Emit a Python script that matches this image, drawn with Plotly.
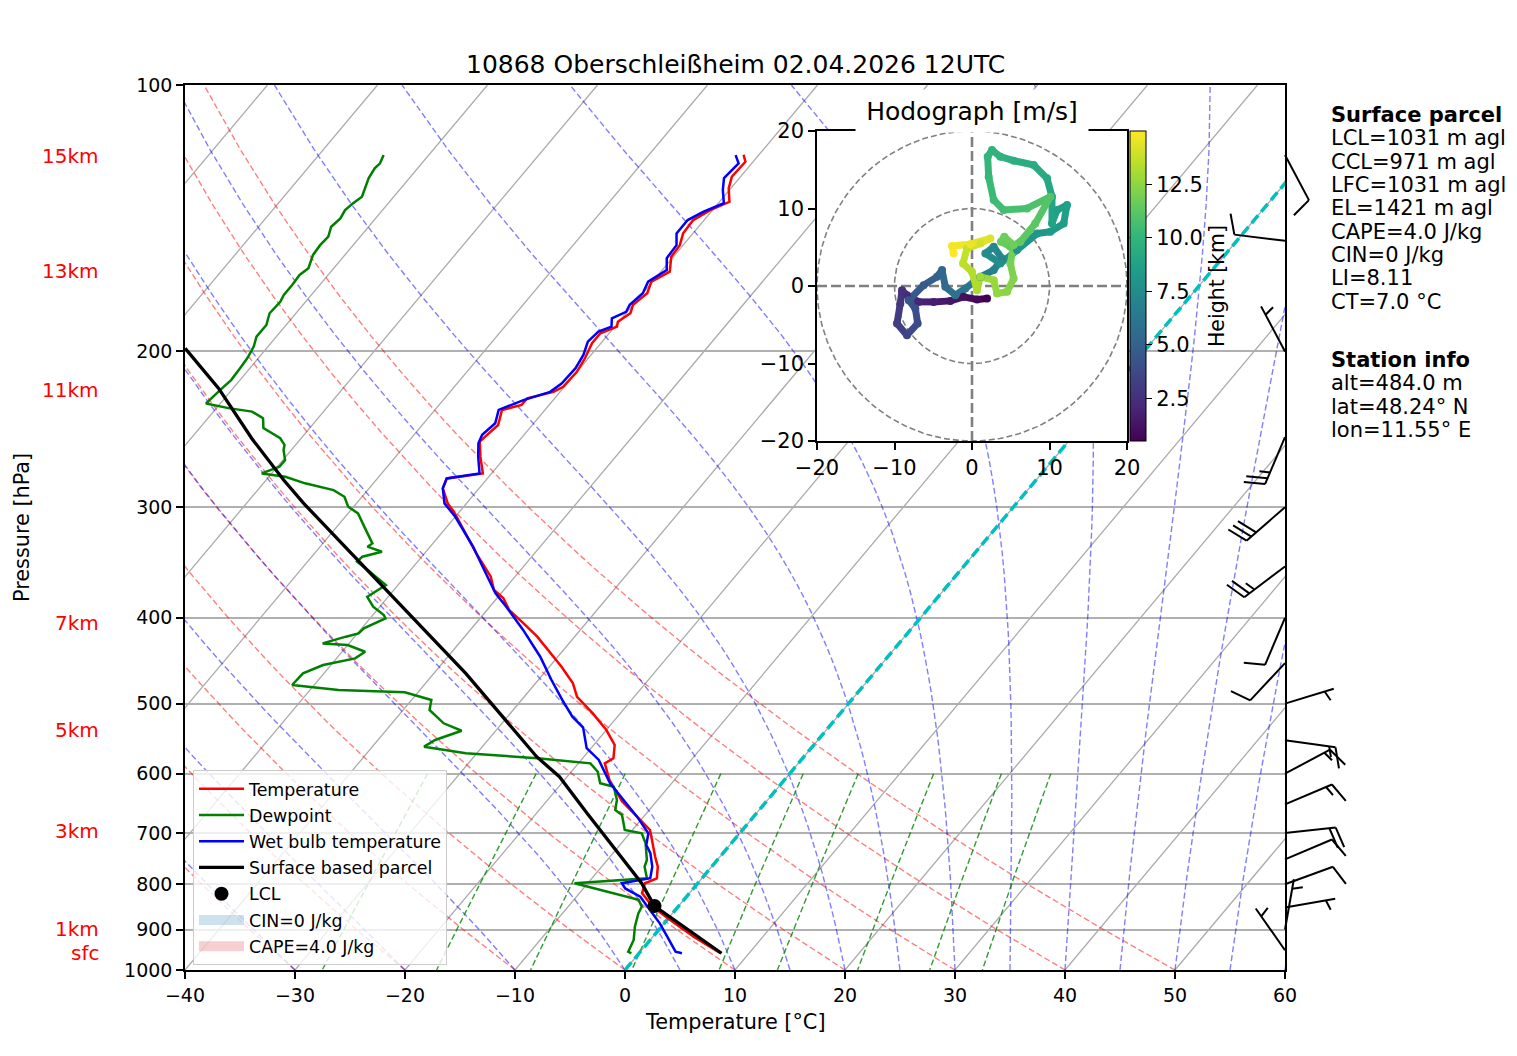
import numpy as np
import plotly.graph_objects as go
from plotly.colors import sample_colorscale

FONT = "DejaVu Sans"
W, H = 1517, 1056
SKEW = 67.5           # degC shift per decade of pressure
PX_PER_DECADE = 885   # pixel height of the main axes (1000 -> 100 hPa)

# ---------------- sounding data ----------------
p_temp = [957.4, 917.0, 878.0, 848.3, 819.1, 798.0, 787.7, 764.3, 744.7, 709.9, 694.7, 671.0,
          645.2, 610.0, 584.1, 576.5, 556.9, 535.6, 512.9, 491.2, 474.3, 454.3, 442.6, 420.1,
          405.6, 391.9, 380.2, 372.0, 359.4, 338.2, 321.1, 304.8, 297.0, 285.6, 278.3, 274.7,
          263.0, 252.9, 249.6, 242.2, 232.9, 229.9, 226.0, 222.2, 219.3, 210.9, 203.6, 195.8,
          190.8, 187.5, 185.1, 181.1, 177.2, 171.9, 166.8, 162.5, 156.3, 151.7, 147.1, 142.1,
          138.5, 135.5, 130.8, 126.9, 122.1, 119.9]
temp = [7.4, 3.7, 0.3, -2.3, -4.3, -4.8, -4.1, -4.9, -5.9, -7.6, -8.4, -10.6,
        -13.1, -15.9, -17.6, -17.2, -18.1, -20.0, -22.5, -25.2, -26.6, -28.9, -30.4, -33.4,
        -35.7, -38.0, -39.4, -40.9, -42.2, -45.3, -47.8, -50.3, -51.7, -53.3, -53.7, -50.8,
        -52.3, -53.5, -53.4, -53.1, -53.9, -52.5, -52.5, -50.6, -50.1, -50.0, -50.3, -50.8,
        -50.8, -49.8, -50.1, -49.6, -50.0, -49.6, -50.1, -49.2, -50.2, -50.3, -50.9, -51.0,
        -50.2, -49.1, -50.2, -50.8, -50.7, -51.4]

p_wetbulb = [957.4, 953.5, 917.0, 885.6, 855.6, 826.4, 808.8, 798.0, 787.7, 764.3, 738.0, 722.3,
             700.8, 671.0, 642.5, 615.2, 579.0, 561.6, 532.1, 517.4, 495.3, 470.3, 442.6, 412.8,
             388.6, 375.3, 359.4, 332.4, 307.5, 297.0, 285.6, 278.3, 274.7, 263.0, 254.0, 248.5,
             241.1, 232.9, 227.0, 222.2, 217.4, 208.9, 201.8, 195.0, 190.0, 187.5, 183.5, 180.4,
             177.2, 171.9, 166.8, 161.8, 156.9, 151.7, 147.1, 142.1, 139.0, 136.0, 131.4, 127.4,
             122.6, 120.0]
wetbulb = [3.9, 3.2, 1.3, -0.4, -2.3, -4.2, -6.2, -6.9, -4.7, -5.4, -6.6, -7.6,
           -8.3, -10.6, -13.1, -15.6, -18.4, -20.4, -22.3, -24.1, -26.3, -28.8, -31.6, -35.2,
           -38.5, -40.5, -42.5, -46.1, -50.0, -52.0, -53.3, -53.7, -51.1, -52.5, -53.5, -53.8,
           -53.5, -54.2, -52.7, -50.9, -50.5, -50.4, -50.7, -51.3, -51.1, -50.3, -50.9, -50.1,
           -50.3, -50.0, -50.4, -49.6, -50.5, -50.6, -51.5, -51.5, -50.7, -49.5, -50.6, -51.4,
           -51.2, -52.1]

p_dew = [957.4, 953.5, 924.9, 893.6, 863.2, 848.3, 833.3, 822.6, 798.0, 787.7, 764.3, 751.1,
         719.0, 700.8, 694.7, 668.0, 659.3, 642.5, 620.7, 615.2, 597.0, 584.1, 576.5, 568.9,
         559.3, 549.7, 536.6, 526.3, 508.4, 495.3, 485.5, 482.6, 476.4, 462.2, 452.3, 444.5,
         436.9, 429.4, 427.5, 420.1, 416.5, 411.1, 400.5, 397.1, 388.6, 378.7, 367.3, 353.2,
         345.7, 341.2, 336.8, 332.4, 329.6, 318.4, 304.8, 299.6, 291.9, 286.9, 281.9, 277.1,
         274.7, 270.0, 265.3, 258.5, 255.1, 250.7, 244.2, 237.9, 233.9, 231.8, 229.0, 220.2,
         215.5, 208.9, 203.6, 197.5, 192.5, 186.7, 181.1, 175.8, 172.7, 168.3, 163.9, 161.1,
         155.6, 151.7, 148.4, 144.6, 141.5, 138.5, 136.0, 133.7, 127.4, 124.2, 122.6, 120.0]
dewpoint = [-0.7, -1.1, -1.5, -2.4, -3.1, -3.3, -4.1, -6.3, -11.2, -5.0, -6.1, -6.4,
            -7.8, -8.9, -10.7, -12.1, -13.1, -13.7, -15.0, -16.5, -17.6, -18.9, -24.1, -31.0,
            -35.3, -34.8, -33.1, -35.3, -37.6, -38.2, -41.2, -47.4, -52.0, -51.9, -50.7, -48.3,
            -47.9, -50.0, -52.4, -50.8, -49.9, -49.8, -48.6, -49.0, -50.6, -51.9, -51.1, -53.9,
            -55.5, -55.4, -54.0, -55.7, -55.5, -57.1, -59.1, -60.5, -61.6, -63.1, -66.2, -68.5,
            -70.9, -69.8, -69.8, -70.7, -71.0, -71.9, -74.2, -75.0, -76.5, -78.9, -81.3, -81.0,
            -80.8, -80.9, -81.0, -81.3, -81.8, -81.8, -82.4, -82.3, -82.5, -82.5, -82.6, -82.3,
            -82.9, -83.0, -82.9, -83.4, -83.2, -83.4, -83.2, -82.9, -83.7, -83.9, -83.8, -84.1]

p_parcel = [957.4, 846.6, 798.0, 725.5, 665.2, 604.8, 574.1, 462.2, 372.0, 312.8, 297.0, 279.5,
            250.7, 220.2, 198.4]
t_parcel = [7.5, -2.2, -5.1, -10.5, -15.4, -20.7, -24.3, -37.1, -50.7, -61.5, -64.8, -68.4,
            -74.5, -81.3, -87.4]
lcl_p, lcl_t = 846.6, -2.2
el_p = 798.0

# wind barbs (kt, direction wind comes from)
barb_p = [120, 150, 200, 250, 300, 350, 400, 450, 500, 550, 600, 650, 700, 750, 800, 850, 900, 950]
barb_spd = [10, 10, 5, 25, 30, 25, 10, 10, 5, 15, 15, 15, 20, 10, 10, 5, 5, 5]
barb_dir = [152, 277, 332, 203, 229, 233, 203, 223, 73, 98, 62, 67, 84, 67, 70, 80, 10, 325]

# hodograph (height km, u, v in m/s)
hodo_h = [0.5, 0.8, 1.1, 1.4, 1.7, 2.0, 2.3, 2.6, 2.9, 3.2, 3.5, 3.8, 4.1, 4.4, 4.7, 5.0, 5.3, 5.6,
          5.9, 6.2, 6.5, 6.8, 7.1, 7.3, 7.5, 7.7, 7.9, 8.1, 8.3, 8.5, 8.6, 8.7, 8.8, 9.0, 9.2, 9.4,
          9.6, 9.8, 9.9, 10.0, 10.2, 10.4, 10.6, 10.8, 11.0, 11.2, 11.4, 11.5, 11.6, 11.7, 11.8,
          12.0, 12.2, 12.4, 12.6, 12.8, 13.0, 13.2, 13.4, 13.6, 13.8, 14.0, 14.3, 14.6, 14.8, 15.0]
hodo_u = [1.94, 0.65, -1.08, -2.80, -4.95, -6.88, -8.39, -9.03, -9.25, -9.68, -8.39, -7.01, -7.31,
          -8.17, -6.24, -4.52, -3.87, -3.44, -2.15, -0.86, 1.08, 2.80, 3.87, 2.80, 1.72, 3.66, 5.81,
          8.39, 10.11, 11.83, 12.26, 10.97, 10.32, 10.32, 9.68, 7.96, 5.38, 3.66, 2.58, 2.02, 2.15,
          2.80, 4.09, 7.10, 10.11, 8.17, 6.24, 4.95, 3.74, 4.17, 5.38, 4.95, 5.38, 4.52, 3.23, 2.80,
          1.08, 0.65, 0.00, -1.16, -0.65, 1.08, 2.37, -0.22, -2.58, -2.37]
hodo_v = [-1.61, -1.74, -1.40, -1.92, -2.05, -2.05, -1.18, -0.54, -2.26, -4.84, -6.35, -4.84, -2.91,
          -1.83, 0.11, 1.18, 2.05, -0.11, -1.18, -0.32, 1.18, 2.05, 3.55, 5.06, 4.20, 2.91, 4.63,
          6.78, 7.00, 8.07, 10.44, 9.80, 8.07, 11.52, 13.89, 15.61, 16.17, 16.69, 17.55, 16.69, 14.10,
          11.09, 9.80, 10.01, 11.52, 8.07, 5.71, 5.06, 5.71, 6.35, 5.28, 2.91, 0.97, -0.75, -0.97,
          0.75, 1.18, -0.54, 1.83, 2.91, 4.84, 5.49, 6.14, 5.40, 5.15, 4.20]

km_labels = ["15km", "13km", "11km", "7km", "5km", "3km", "1km", "sfc"]
km_p = [120.2, 162.4, 221.3, 405.6, 535.9, 697.0, 899.6, 957.4]

parcel_info = ["<b>Surface parcel</b>", "LCL=1031 m agl", "CCL=971 m agl", "LFC=1031 m agl",
               "EL=1421 m agl", "CAPE=4.0 J/kg", "CIN=0 J/kg", "LI=8.11", "CT=7.0 °C"]
station_info = ["<b>Station info</b>", "alt=484.0 m", "lat=48.24° N", "lon=11.55° E"]
title = "10868 Oberschleißheim 02.04.2026 12UTC"


def fx(px):
    return px / W


def fy(py):
    return 1 - py / H


def skew(t, p):
    return list(np.asarray(t, float) + SKEW * np.log10(1000.0 / np.asarray(p, float)))


def moist_adiabat(t0, pres):
    Rd, Cp, Lv, eps = 287.04749, 1004.6662, 2.50084e6, 0.6219569

    def lapse(p, T):
        es = 6.112 * np.exp(17.67 * (T - 273.15) / (T - 29.65))
        rs = eps * es / (p - es)
        return (Rd * T + Lv * rs) / (Cp + Lv * Lv * rs * eps / (Rd * T * T)) / p

    T = t0 + 273.15
    p = pres[0]
    out = [T]
    for pn in pres[1:]:
        n = 8
        h = (pn - p) / n
        for _ in range(n):
            k1 = lapse(p, T)
            k2 = lapse(p + h / 2, T + h * k1 / 2)
            k3 = lapse(p + h / 2, T + h * k2 / 2)
            k4 = lapse(p + h, T + h * k3)
            T += h * (k1 + 2 * k2 + 2 * k3 + k4) / 6
            p += h
        out.append(T)
    return np.array(out) - 273.15


def join(curves):
    xs, ys = [], []
    for t, p in curves:
        xs += skew(t, p) + [None]
        ys += list(p) + [None]
    return xs, ys


def barb_lines(p, spd, wdir, L=51.0):
    h, w, sp = 0.4 * L, 0.25 * L, 0.125 * L
    u = -spd * np.sin(np.radians(wdir))
    v = -spd * np.cos(np.radians(wdir))
    th = np.arctan2(v, u) + np.pi / 2
    s5 = 5 * int(round(spd / 5))
    nfull = s5 // 10
    half = (s5 - 10 * nfull) >= 5
    segs = [[(0, 0), (0, L)]]
    off = L
    for _ in range(nfull):
        segs.append([(0, off), (h, off + w / 2)])
        off -= sp
    if half:
        if off == L:
            off -= 1.5 * sp
        segs.append([(0, off), (h / 2, off + w / 4)])
    xs, ys = [], []
    for seg in segs:
        for a, b in seg:
            xr = a * np.cos(th) - b * np.sin(th)
            yr = a * np.sin(th) + b * np.cos(th)
            xs.append(xr)
            ys.append(p * 10 ** (-yr / PX_PER_DECADE))
        xs.append(None)
        ys.append(None)
    return xs, ys


fig = go.Figure()

# ---------------- background lines ----------------
pres = np.linspace(1000, 100, 50)
iso = [(np.array([t, t]), np.array([1000.0, 100.0])) for t in range(-130, 61, 10)]
dry = [((t0 + 273.15) * (pres / 1000.0) ** 0.28571 - 273.15, pres) for t0 in range(-40, 51, 10)]
moist = [(moist_adiabat(t0, pres), pres) for t0 in list(range(-40, 0, 10)) + list(range(0, 61, 5))]
pmix = np.linspace(600, 1000, 50)
mix = []
for w in [0.0004, 0.001, 0.002, 0.004, 0.007, 0.01, 0.016, 0.024, 0.032]:
    e = pmix * w / (0.6219569 + w)
    val = np.log(e / 6.112)
    mix.append((243.5 * val / (17.67 - val), pmix))

for curves, col, dash, wid in [(iso, "#ababab", "solid", 1.3),
                               (dry, "rgba(255,0,0,0.5)", "6px,3px", 1.4),
                               (moist, "rgba(0,0,255,0.5)", "6px,3px", 1.4),
                               (mix, "rgba(0,128,0,0.8)", "6px,3px", 1.4)]:
    xs, ys = join(curves)
    fig.add_trace(go.Scatter(x=xs, y=ys, mode="lines", line=dict(color=col, width=wid, dash=dash),
                             showlegend=False, hoverinfo="skip"))

fig.add_trace(go.Scatter(x=skew([0, 0], [1000, 100]), y=[1000, 100], mode="lines",
                         line=dict(color="rgb(0,191,191)", width=3.5, dash="10px,5px"),
                         showlegend=False, hoverinfo="skip"))

# ---------------- CAPE / CIN shading ----------------
cape_pp = [p for p in p_parcel if p >= el_p]
cape_pt = [t for p, t in zip(p_parcel, t_parcel) if p >= el_p]
env_p = [p for p in p_temp if p >= el_p][::-1]
env_t = [t for p, t in zip(p_temp, temp) if p >= el_p][::-1]
fig.add_trace(go.Scatter(x=skew(cape_pt + env_t, cape_pp + env_p), y=cape_pp + env_p,
                         fill="toself", fillcolor="rgba(214,39,40,0.2)", mode="none",
                         showlegend=False, hoverinfo="skip"))
# legend swatches for the shaded areas
fig.add_trace(go.Scatter(x=[None], y=[None], mode="lines", name="CIN=0 J/kg",
                         line=dict(color="rgba(31,119,180,0.22)", width=13),
                         legendrank=6, legendgroup="g6"))
fig.add_trace(go.Scatter(x=[None], y=[None], mode="lines", name="CAPE=4.0 J/kg",
                         line=dict(color="rgba(214,39,40,0.22)", width=13),
                         legendrank=7, legendgroup="g7"))

# ---------------- profiles ----------------
fig.add_trace(go.Scatter(x=skew(temp, p_temp), y=p_temp, mode="lines", name="Temperature",
                         line=dict(color="#ff0000", width=2.5), legendrank=1, legendgroup="g1"))
fig.add_trace(go.Scatter(x=skew(dewpoint, p_dew), y=p_dew, mode="lines", name="Dewpoint",
                         line=dict(color="#008000", width=2.5), legendrank=2, legendgroup="g2"))
fig.add_trace(go.Scatter(x=skew(wetbulb, p_wetbulb), y=p_wetbulb, mode="lines",
                         name="Wet bulb temperature", line=dict(color="#0000ff", width=2.5),
                         legendrank=3, legendgroup="g3"))
fig.add_trace(go.Scatter(x=skew(t_parcel, p_parcel), y=p_parcel, mode="lines",
                         name="Surface based parcel", line=dict(color="black", width=3.3),
                         legendrank=4, legendgroup="g4"))
fig.add_trace(go.Scatter(x=skew([lcl_t], [lcl_p]), y=[lcl_p], mode="markers", name="LCL",
                         marker=dict(color="black", size=14), legendrank=5, legendgroup="g5"))

# ---------------- wind barbs ----------------
bx, by = [], []
for p, s, d in zip(barb_p, barb_spd, barb_dir):
    xs, ys = barb_lines(p, s, d)
    bx += xs
    by += ys
fig.add_trace(go.Scatter(x=bx, y=by, xaxis="x2", yaxis="y2", mode="lines",
                         line=dict(color="black", width=2), showlegend=False, hoverinfo="skip"))

# ---------------- hodograph ----------------
fig.add_trace(go.Scatter(x=[-20, 20, 20, -20, -20], y=[-20, -20, 20, 20, -20], xaxis="x3", yaxis="y3",
                         fill="toself", fillcolor="white", mode="none", showlegend=False,
                         hoverinfo="skip"))
ang = np.linspace(0, 2 * np.pi, 200)
for r in [10, 20]:
    fig.add_trace(go.Scatter(x=r * np.cos(ang), y=r * np.sin(ang), xaxis="x3", yaxis="y3",
                             mode="lines", line=dict(color="gray", width=1.6, dash="6px,3px"),
                             showlegend=False, hoverinfo="skip"))
fig.add_trace(go.Scatter(x=[-20, 20, None, 0, 0], y=[0, 0, None, -20, 20], xaxis="x3", yaxis="y3",
                         mode="lines", line=dict(color="gray", width=2.6, dash="10px,4px"),
                         showlegend=False, hoverinfo="skip"))
hmin, hmax = min(hodo_h), max(hodo_h)
for i in range(len(hodo_h) - 1):
    frac = ((hodo_h[i] + hodo_h[i + 1]) / 2 - hmin) / (hmax - hmin)
    col = sample_colorscale("Viridis", [frac])[0]
    fig.add_trace(go.Scatter(x=hodo_u[i:i + 2], y=hodo_v[i:i + 2], xaxis="x3", yaxis="y3",
                             mode="lines", line=dict(color=col, width=7),
                             showlegend=False, hoverinfo="skip"))
fig.add_trace(go.Scatter(
    x=hodo_u, y=hodo_v, xaxis="x3", yaxis="y3", mode="markers", showlegend=False, hoverinfo="skip",
    marker=dict(color=hodo_h, colorscale="Viridis", cmin=hmin, cmax=hmax, size=8,
                colorbar=dict(x=fx(1130), xanchor="left", y=fy(286), yanchor="middle",
                              len=310 / H, lenmode="fraction", thickness=16, thicknessmode="pixels",
                              xpad=0, ypad=0, outlinecolor="black", outlinewidth=1,
                              tickvals=[2.5, 5, 7.5, 10, 12.5],
                              ticktext=["2.5", "5.0", "7.5", "10.0", "12.5"],
                              ticks="outside", ticklen=6, tickcolor="black",
                              tickfont=dict(size=21, family=FONT, color="black"),
                              title=dict(text="Height [km]", side="right",
                                         font=dict(size=20.5, family=FONT, color="black"))))))

# ---------------- annotations ----------------
ann = [
    dict(text=title, x=fx(735), y=fy(65), xanchor="center", yanchor="middle",
         font=dict(size=25, family=FONT, color="black")),
    dict(text="Temperature [°C]", x=fx(735), y=fy(1022), xanchor="center", yanchor="middle",
         font=dict(size=20.8, family=FONT, color="black")),
    dict(text="Pressure [hPa]", x=fx(22), y=fy(528), textangle=-90, xanchor="center",
         yanchor="middle", font=dict(size=20.8, family=FONT, color="black")),
    dict(text="Hodograph [m/s]", x=fx(972), y=fy(111), xanchor="center", yanchor="middle",
         bgcolor="white", width=232, height=42, borderpad=0,
         font=dict(size=25, family=FONT, color="black")),
]
for a in ann:
    a.update(xref="paper", yref="paper", showarrow=False)
for lab, p in zip(km_labels, km_p):
    ann.append(dict(text=lab, x=fx(101), y=np.log10(p), xref="paper", yref="y", xanchor="right",
                    yanchor="middle", showarrow=False,
                    font=dict(size=20, family=FONT, color="red")))
for i, line in enumerate(parcel_info):
    ann.append(dict(text=line, x=fx(1329), y=fy(115 + 23.35 * i), xref="paper", yref="paper",
                    xanchor="left", yanchor="middle", showarrow=False,
                    font=dict(size=21, family=FONT, color="black")))
for i, line in enumerate(station_info):
    ann.append(dict(text=line, x=fx(1329), y=fy(360 + 23.35 * i), xref="paper", yref="paper",
                    xanchor="left", yanchor="middle", showarrow=False,
                    font=dict(size=21, family=FONT, color="black")))

shapes = [dict(type="line", xref="paper", yref="y", x0=fx(143), x1=fx(185),
               y0=np.log10(p), y1=np.log10(p), line=dict(color="red", width=1.5)) for p in km_p]

axis_style = dict(showline=True, linecolor="black", linewidth=1.5, mirror=True, ticks="outside",
                  ticklen=7, tickwidth=1.5, tickcolor="black", zeroline=False,
                  tickfont=dict(size=19, family=FONT, color="black"))
hodo_axis = dict(axis_style, tickfont=dict(size=21, family=FONT, color="black"))
p_ticks = [100, 200, 300, 400, 500, 600, 700, 800, 900, 1000]

fig.update_layout(
    width=W, height=H, margin=dict(l=0, r=0, t=0, b=0, autoexpand=False),
    paper_bgcolor="white", plot_bgcolor="rgba(0,0,0,0)",
    font=dict(family=FONT, color="black"),
    xaxis=dict(domain=[fx(185), fx(1285)], range=[-40, 60], tickvals=list(range(-40, 61, 10)),
               showgrid=False, anchor="y", **axis_style),
    yaxis=dict(domain=[fy(970), fy(85)], type="log", range=[3, 2], tickvals=p_ticks,
               ticktext=[str(p) for p in p_ticks], showgrid=True, gridcolor="#b0b0b0",
               gridwidth=1.5, anchor="x", **axis_style),
    xaxis2=dict(domain=[fx(1200), fx(1380)], range=[-85, 95], visible=False, anchor="y2"),
    yaxis2=dict(domain=[fy(970), fy(85)], type="log", range=[3, 2], visible=False, anchor="x2"),
    xaxis3=dict(domain=[fx(817), fx(1127)], range=[-20, 20], tickvals=[-20, -10, 0, 10, 20],
                showgrid=False, anchor="y3", **hodo_axis),
    yaxis3=dict(domain=[fy(441), fy(131)], range=[-20, 20], tickvals=[-20, -10, 0, 10, 20],
                showgrid=False, anchor="x3", **hodo_axis),
    legend=dict(x=fx(193), y=fy(770), xanchor="left", yanchor="top",
                bgcolor="rgba(255,255,255,0.8)", bordercolor="#cccccc", borderwidth=1,
                font=dict(size=17.4, family=FONT, color="black"), itemwidth=45,
                traceorder="grouped", tracegroupgap=0.6),
    annotations=ann, shapes=shapes,
)

fig.write_html("out.html", config={"displayModeBar": False},
               post_script="document.body.style.margin='0px';")
